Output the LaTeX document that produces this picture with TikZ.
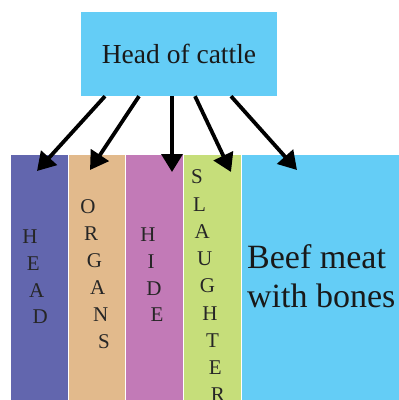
\documentclass[tikz,border=0pt]{standalone}
\usepackage{fontspec}
\setmainfont{Liberation Serif}
\usetikzlibrary{arrows.meta}
\definecolor{cblue}{HTML}{64CDF6}
\definecolor{chead}{HTML}{6266AE}
\definecolor{corg}{HTML}{E2BA8C}
\definecolor{chide}{HTML}{C27AB7}
\definecolor{cslau}{HTML}{C6DE7A}
\begin{document}
\begin{tikzpicture}[x=1pt,y=-1pt,
  colbox/.style={draw=none,inner sep=0pt,anchor=north west,minimum height=245pt},
  letter/.style={font=\fontsize{21}{21}\selectfont,inner sep=0pt,text=black!85},
  arr/.style={line width=3.8pt,-{Triangle[length=18pt,width=21pt]}},
  beeftext/.style={font=\fontsize{34}{39}\selectfont,inner sep=0pt,anchor=base west,text=black!90}]
\useasboundingbox (0,0) rectangle (399,400);
% top box
\node[fill=cblue,minimum width=196pt,minimum height=84pt,inner sep=0pt,
  font=\fontsize{27.5}{30}\selectfont,text=black!90] (top) at (179,54) {Head of cattle};
% columns
\node[colbox,fill=chead,minimum width=57pt] (chead) at (11,155) {};
\node[colbox,fill=corg,minimum width=56pt] (corg) at (69,155) {};
\node[colbox,fill=chide,minimum width=57pt] (chide) at (126,155) {};
\node[colbox,fill=cslau,minimum width=57pt] (cslau) at (184,155) {};
\node[colbox,fill=cblue,minimum width=157pt] (cbeef) at (242,155) {};
% vertical letters
\foreach \l [count=\i from 0] in {H,E,A,D}
  \node[letter] (lh\i) at (30+3.4*\i,237+26.7*\i) {\l};
\foreach \l [count=\i from 0] in {O,R,G,A,N,S}
  \node[letter] (lo\i) at (88+3.2*\i,207+27*\i) {\l};
\foreach \l [count=\i from 0] in {H,I,D,E}
  \node[letter] (li\i) at (148+3*\i,235+26.7*\i) {\l};
\foreach \l [count=\i from 0] in {S,L,A,U,G,H,T,E,R}
  \node[letter] (ls\i) at (197+2.6*\i,177+27.25*\i) {\l};
% beef text
\node[beeftext] (beef1) at (247,268) {Beef meat};
\node[beeftext] (beef2) at (247,307) {with bones};
% arrow targets
\coordinate (th) at (37,171);
\coordinate (to) at (90,170);
\coordinate (ti) at (172,172);
\coordinate (ts) at (231,172);
\coordinate (tb) at (297,170);
\draw[arr] ([xshift=-74pt]top.south) -- (th);
\draw[arr] ([xshift=-40pt]top.south) -- (to);
\draw[arr] ([xshift=-7pt]top.south) -- (ti);
\draw[arr] ([xshift=16pt]top.south) -- (ts);
\draw[arr] ([xshift=52pt]top.south) -- (tb);
\end{tikzpicture}
\end{document}
